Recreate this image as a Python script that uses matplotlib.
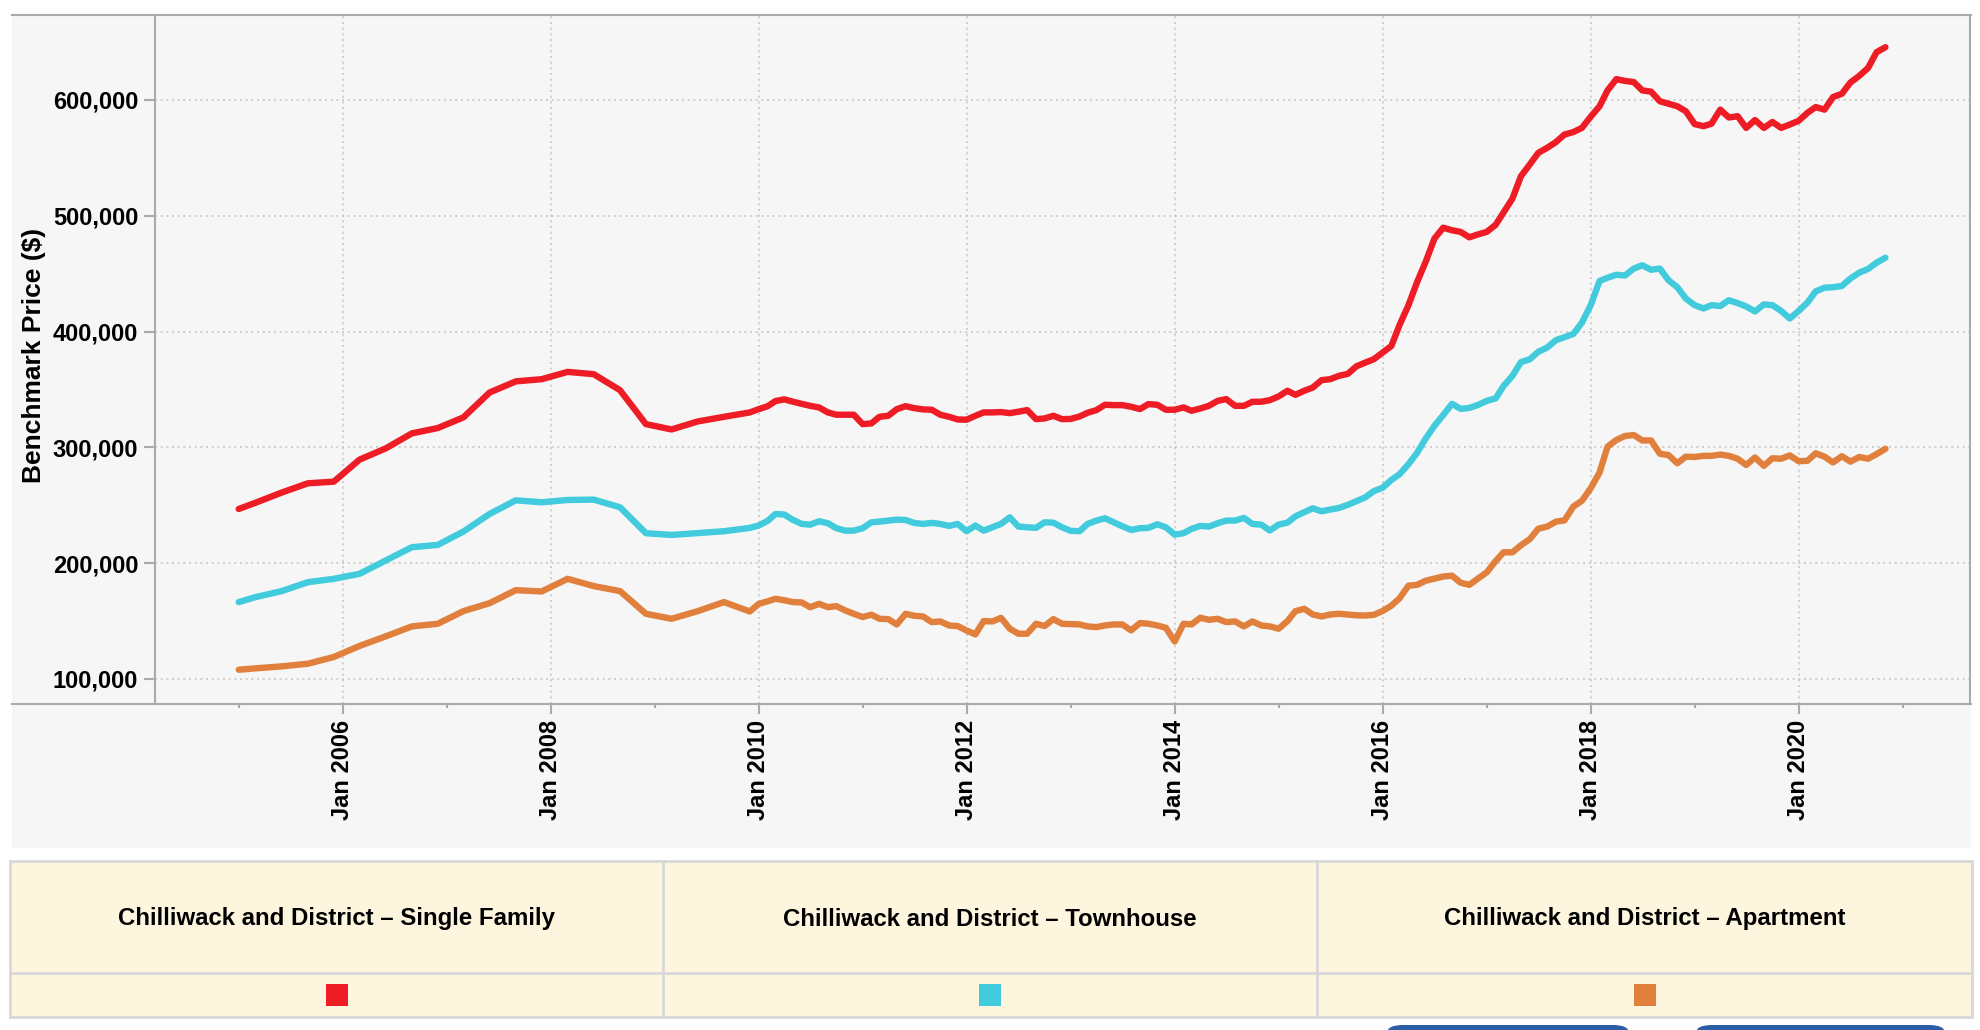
import matplotlib
matplotlib.use('Agg')
import matplotlib.pyplot as plt
import matplotlib.dates as mdates
import pandas as pd
from matplotlib.patches import Rectangle, FancyBboxPatch
from matplotlib.lines import Line2D
from matplotlib.ticker import FuncFormatter, FixedLocator

plt.rcParams['font.family'] = ['Liberation Sans', 'DejaVu Sans']
plt.rcParams['font.weight'] = 'bold'

# ---------------- data ----------------
series_names = ["Chilliwack and District \u2013 Single Family",
                "Chilliwack and District \u2013 Townhouse",
                "Chilliwack and District \u2013 Apartment"]
series_colors = ["#ee1c25", "#41cbdc", "#e0803c"]

# quarterly observations 2005-2009
quarter_dates = ["2005-01-01", "2005-03-01", "2005-06-01", "2005-09-01", "2005-12-01",
                 "2006-03-01", "2006-06-01", "2006-09-01", "2006-12-01",
                 "2007-03-01", "2007-06-01", "2007-09-01", "2007-12-01",
                 "2008-03-01", "2008-06-01", "2008-09-01", "2008-12-01",
                 "2009-03-01", "2009-06-01", "2009-09-01", "2009-12-01"]
single_q = [246.8, 252.2, 261.0, 269.0, 270.4, 289.4, 299.1, 312.1, 316.7, 325.9, 347.4,
            357.0, 358.9, 365.2, 363.2, 349.4, 320.1, 315.5, 322.4, 326.4, 330.2]
town_q = [166.4, 170.7, 175.9, 183.6, 186.5, 190.8, 202.3, 213.8, 215.8, 227.3, 242.5,
          254.3, 252.6, 254.6, 254.9, 248.3, 225.9, 224.4, 226.0, 227.6, 230.5]
apt_q = [108.0, 109.2, 110.9, 113.2, 119.0, 128.5, 136.8, 145.4, 147.7, 158.6, 165.5,
         176.7, 175.6, 186.5, 180.2, 175.9, 156.3, 152.0, 158.6, 166.4, 158.3]

# monthly observations Jan 2010 - Nov 2020 (thousands of $)
monthly_start = "2010-01-01"
single_m = [
    333.0, 335.5, 340.0, 341.5, 339.5, 337.6, 335.9, 334.5, 330.2, 328.2, 328.2, 328.2,
    320.1, 320.7, 326.4, 327.3, 333.0, 335.6, 333.9, 332.8, 332.5, 328.2, 326.4, 324.1,
    323.9, 327.3, 330.2, 330.2, 330.5, 329.6, 330.8, 332.2, 324.4, 325.0, 327.3, 324.4,
    324.6, 326.7, 329.9, 332.2, 336.8, 336.5, 336.5, 335.1, 333.1, 337.4, 336.8, 332.5,
    332.5, 334.5, 331.6, 333.6, 335.9, 340.2, 341.7, 335.9, 335.9, 339.4, 339.4, 340.8,
    344.0, 348.9, 345.4, 348.9, 351.7, 358.1, 358.9, 361.8, 363.5, 370.0, 373.2, 376.1,
    381.9, 387.6, 405.9, 422.8, 442.6, 460.6, 480.3, 489.7, 487.5, 486.1, 481.4, 483.9,
    486.1, 492.2, 503.0, 514.8, 534.2, 544.3, 554.4, 558.7, 563.7, 570.2, 572.3, 575.9,
    585.6, 594.6, 608.3, 618.0, 616.5, 615.5, 608.3, 607.2, 598.9, 596.8, 594.6, 590.3,
    579.2, 577.4, 579.5, 591.7, 584.9, 586.0, 575.9, 582.7, 575.9, 581.0, 575.9, 578.8,
    582.0, 588.9, 593.9, 591.7, 602.5, 605.4, 615.1, 620.8, 627.7, 641.3, 645.6]
town_m = [
    232.5, 236.5, 242.5, 242.0, 237.5, 233.9, 233.3, 236.2, 234.5, 230.2, 228.1, 228.1,
    230.2, 235.3, 235.9, 236.8, 237.6, 237.3, 234.8, 233.9, 234.8, 233.9, 232.2, 233.9,
    227.6, 232.5, 228.1, 231.0, 233.9, 239.6, 231.6, 231.0, 230.5, 235.3, 235.0, 231.0,
    227.9, 227.6, 233.9, 236.8, 238.8, 235.3, 231.9, 228.7, 230.2, 230.5, 233.6, 231.0,
    224.7, 225.9, 229.6, 232.2, 231.6, 234.5, 236.8, 236.8, 239.1, 233.9, 233.3, 228.2,
    233.3, 235.0, 240.5, 244.0, 247.4, 244.8, 246.3, 247.7, 250.4, 253.5, 256.8, 262.2,
    265.1, 271.9, 276.9, 285.5, 295.2, 307.8, 318.6, 327.9, 337.6, 333.3, 334.1, 336.6,
    340.2, 342.3, 353.1, 361.7, 373.6, 376.1, 382.6, 386.2, 392.6, 395.2, 398.0, 407.7,
    422.8, 443.7, 446.5, 449.1, 448.4, 454.4, 457.3, 453.4, 454.4, 444.4, 438.3, 428.6,
    422.8, 420.0, 422.8, 422.1, 427.1, 424.6, 421.7, 417.4, 423.5, 422.8, 417.8, 411.3,
    417.8, 425.0, 434.7, 437.9, 438.3, 439.4, 445.8, 450.9, 454.1, 459.5, 463.8]
apt_m = [
    164.9, 167.0, 169.3, 168.0, 166.4, 166.1, 162.0, 164.9, 162.0, 162.9, 159.2, 156.3,
    153.5, 155.5, 152.0, 151.7, 147.1, 156.3, 154.6, 154.0, 149.1, 149.7, 146.2, 145.7,
    141.9, 138.5, 150.0, 149.7, 152.8, 143.4, 139.1, 139.1, 147.7, 145.7, 151.7, 147.7,
    147.4, 147.1, 145.4, 144.8, 146.2, 147.1, 147.1, 142.0, 148.3, 147.7, 146.2, 144.2,
    132.4, 147.7, 147.1, 152.9, 151.1, 152.0, 149.1, 149.7, 145.4, 149.7, 146.2, 145.4,
    143.4, 150.0, 158.6, 160.6, 155.7, 154.0, 155.7, 156.3, 155.6, 155.0, 154.8, 155.4,
    158.7, 163.3, 169.8, 180.6, 181.3, 184.9, 186.7, 188.5, 189.2, 183.1, 181.3, 186.7,
    192.1, 201.8, 209.4, 209.4, 215.5, 220.8, 229.8, 231.6, 235.9, 237.0, 248.9, 253.9,
    264.7, 278.3, 300.6, 306.4, 309.8, 310.7, 306.0, 306.0, 294.5, 293.4, 286.3, 292.0,
    291.7, 292.7, 292.7, 293.8, 292.7, 290.2, 284.8, 291.3, 284.1, 290.6, 290.2, 293.1,
    288.1, 288.4, 294.9, 292.0, 287.0, 292.4, 287.7, 291.7, 290.2, 294.2, 298.8]

y_ticks = [100000, 200000, 300000, 400000, 500000, 600000]
major_years = [2006, 2008, 2010, 2012, 2014, 2016, 2018, 2020]
minor_years = [2005, 2007, 2009, 2011, 2013, 2015, 2017, 2019, 2021]
y_label = "Benchmark Price ($)"

# ---------------- figure ----------------
W, H = 1980, 1030
fig = plt.figure(figsize=(W / 100, H / 100), dpi=100, facecolor='white')


def fx(px):
    return px / W


def fy(py):
    return 1 - py / H


PANEL = '#f6f6f6'
AXC = '#aaaaaa'

# grey panel behind chart
fig.patches.append(Rectangle((fx(12), fy(848)), fx(1971) - fx(12), fy(15) - fy(848),
                             transform=fig.transFigure, facecolor=PANEL, edgecolor='none', zorder=-5))

ax = fig.add_axes([fx(155), fy(704), fx(1970) - fx(155), fy(15) - fy(704)])
ax.set_zorder(1)
ax.set_facecolor(PANEL)

q_idx = pd.to_datetime(quarter_dates)
m_idx = pd.date_range(monthly_start, periods=len(single_m), freq='MS')
dates = list(q_idx) + list(m_idx)

for vals_q, vals_m, col in zip([single_q, town_q, apt_q], [single_m, town_m, apt_m], series_colors):
    vals = [v * 1000 for v in vals_q + vals_m]
    ax.plot(dates, vals, color=col, lw=4.6, solid_capstyle='round', solid_joinstyle='round', zorder=3)

# limits
x0 = mdates.date2num(pd.Timestamp('2005-01-01')) - 294
x1 = mdates.date2num(pd.Timestamp('2006-01-01')) + 5715
ax.set_xlim(x0, x1)
ax.set_ylim(78400, 673400)

ax.yaxis.set_major_locator(FixedLocator(y_ticks))
ax.yaxis.set_major_formatter(FuncFormatter(lambda v, p: f"{v:,.0f}"))
ax.xaxis.set_major_locator(FixedLocator([mdates.date2num(pd.Timestamp(f"{y}-01-01")) for y in major_years]))
ax.xaxis.set_minor_locator(FixedLocator([mdates.date2num(pd.Timestamp(f"{y}-01-01")) for y in minor_years]))
ax.xaxis.set_major_formatter(mdates.DateFormatter('%b %Y'))

ax.tick_params(axis='y', length=8, width=1.5, color=AXC, pad=4, labelsize=17, labelcolor='black')
ax.tick_params(axis='x', which='major', length=7.5, width=1.5, color=AXC, pad=4, labelsize=17,
               labelrotation=90, labelcolor='black')
ax.tick_params(axis='x', which='minor', length=3, width=1.5, color=AXC)
for lab in ax.get_xticklabels() + ax.get_yticklabels():
    lab.set_fontweight('bold')

ax.grid(True, which='major', axis='both', color='#c8c8c8', lw=1.2, linestyle=(0, (1.2, 2.2)), zorder=1)
ax.set_axisbelow(True)

for s in ['top', 'bottom']:
    ax.spines[s].set_visible(False)
for s in ['left', 'right']:
    ax.spines[s].set_color(AXC)
    ax.spines[s].set_linewidth(1.5)

# full-width top and axis lines
fig.lines.append(Line2D([fx(12), fx(1971)], [fy(15), fy(15)], transform=fig.transFigure, color=AXC, lw=1.5, zorder=5))
fig.lines.append(Line2D([fx(12), fx(1971)], [fy(704), fy(704)], transform=fig.transFigure, color=AXC, lw=1.5, zorder=5))

fig.text(fx(34), fy(355), y_label, rotation=90, ha='center', va='center', fontsize=19, fontweight='bold')

# ---------------- legend table ----------------
T_L, T_R, T_T, T_B, T_MID = 10, 1972, 861, 1017, 973
cols = [T_L, 663, 1317, T_R]
BORDER = '#d8d8d8'
fig.patches.append(Rectangle((fx(T_L), fy(T_B)), fx(T_R) - fx(T_L), fy(T_T) - fy(T_B),
                             transform=fig.transFigure, facecolor='#fdf5de', edgecolor=BORDER, lw=2, zorder=1))
fig.lines.append(Line2D([fx(T_L), fx(T_R)], [fy(T_MID), fy(T_MID)], transform=fig.transFigure, color=BORDER, lw=2))
for cx in cols[1:-1]:
    fig.lines.append(Line2D([fx(cx), fx(cx)], [fy(T_T), fy(T_B)], transform=fig.transFigure, color=BORDER, lw=2))

SW = 22
for i, (name, col) in enumerate(zip(series_names, series_colors)):
    c = (cols[i] + cols[i + 1]) / 2
    fig.text(fx(c), fy(919), name, ha='center', va='center', fontsize=17.3, fontweight='bold', color='black')
    fig.patches.append(Rectangle((fx(c - SW / 2), fy(995 + SW / 2)), fx(SW), SW / H,
                                 transform=fig.transFigure, facecolor=col, edgecolor='none', zorder=3))

# partially visible buttons at the bottom edge
for bx0, bx1 in [(1387, 1629), (1696, 1945)]:
    fig.patches.append(FancyBboxPatch((fx(bx0), fy(1060)), fx(bx1 - bx0), 35 / H,
                                      boxstyle='round,pad=0,rounding_size=0.008',
                                      transform=fig.transFigure, facecolor='#2d5ca6', edgecolor='none', zorder=2))

fig.savefig('out.png', dpi=100, facecolor='white')
